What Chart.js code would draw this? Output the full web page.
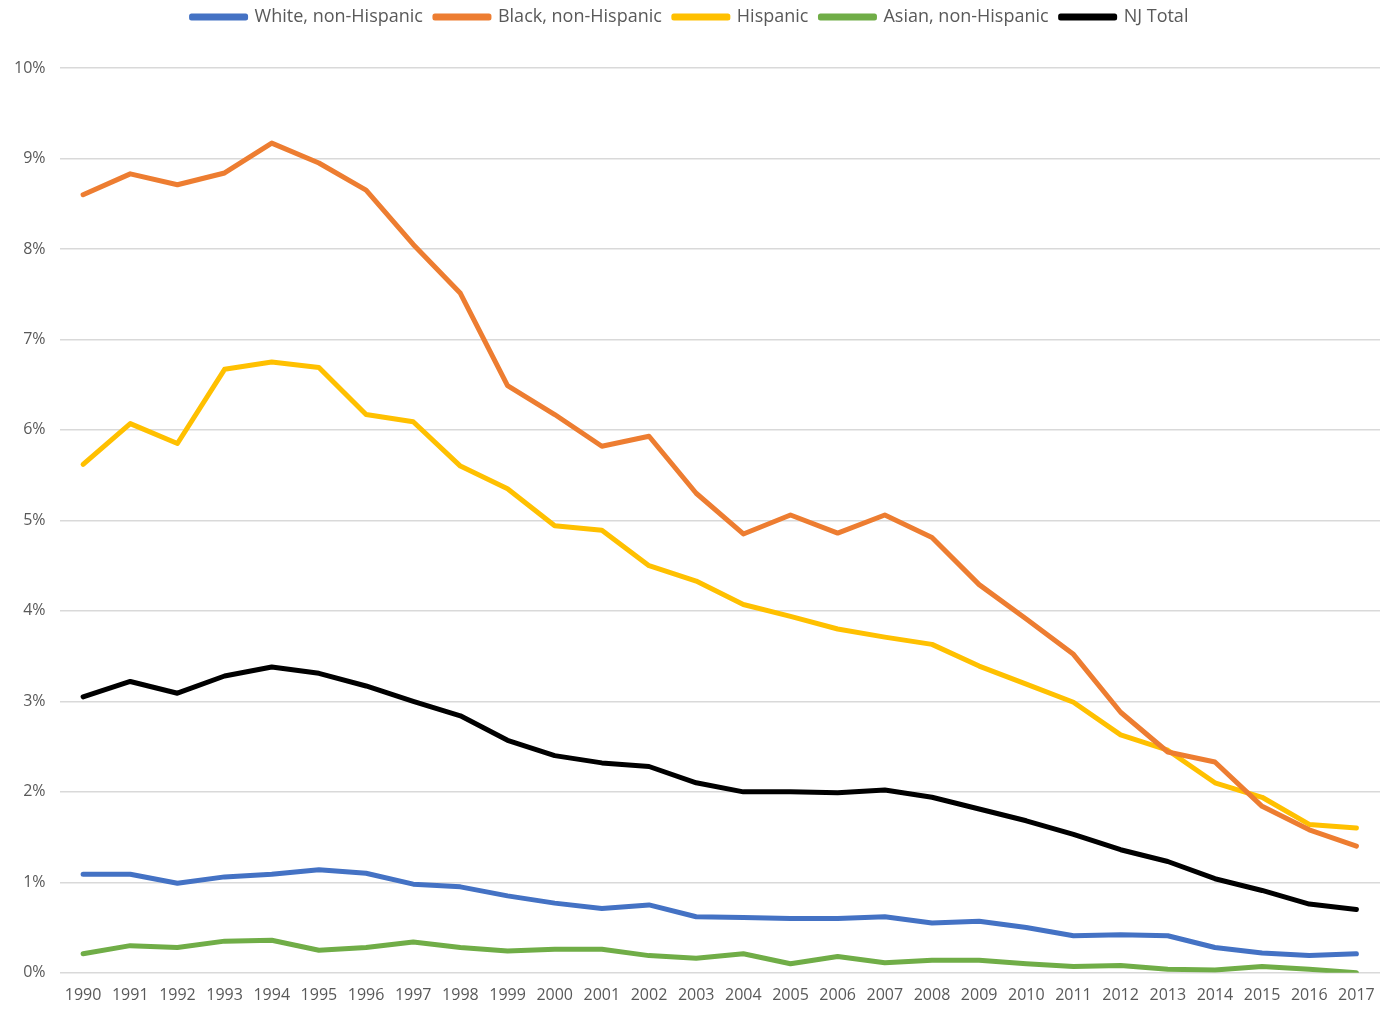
<!DOCTYPE html>
<html>
<head>
<meta charset="utf-8">
<script src="https://cdn.jsdelivr.net/npm/chart.js@4"></script>
<style>
  html, body { margin: 0; padding: 0; background: #fff; }
  #wrap { width: 1383px; height: 1011px; }
</style>
</head>
<body>
<div id="wrap"><canvas id="rateChart"></canvas></div>
<script>
const years = ['1990','1991','1992','1993','1994','1995','1996','1997','1998','1999','2000','2001','2002','2003',
    '2004','2005','2006','2007','2008','2009','2010','2011','2012','2013','2014','2015','2016','2017'];

const whiteRates = [1.09,1.09,0.99,1.06,1.09,1.14,1.10,0.98,0.95,0.85,0.77,0.71,0.75,0.62,
    0.61,0.60,0.60,0.62,0.55,0.57,0.50,0.41,0.42,0.41,0.28,0.22,0.19,0.21];
const blackRates = [8.60,8.83,8.71,8.84,9.17,8.95,8.65,8.05,7.51,6.49,6.17,5.82,5.93,5.30,
    4.85,5.06,4.86,5.06,4.81,4.29,3.91,3.52,2.88,2.44,2.33,1.84,1.58,1.40];
const hispanicRates = [5.62,6.07,5.85,6.67,6.75,6.69,6.17,6.09,5.60,5.35,4.94,4.89,4.50,4.33,
    4.07,3.94,3.80,3.71,3.63,3.39,3.19,2.99,2.63,2.46,2.10,1.94,1.64,1.60];
const asianRates = [0.21,0.30,0.28,0.35,0.36,0.25,0.28,0.34,0.28,0.24,0.26,0.26,0.19,0.16,
    0.21,0.10,0.18,0.11,0.14,0.14,0.10,0.07,0.08,0.04,0.03,0.07,0.04,0.00];
const totalRates = [3.05,3.22,3.09,3.28,3.38,3.31,3.17,3.00,2.84,2.57,2.40,2.32,2.28,2.10,
    2.00,2.00,1.99,2.02,1.94,1.81,1.68,1.53,1.36,1.23,1.04,0.91,0.76,0.70];

const seriesNames = ['White, non-Hispanic', 'Black, non-Hispanic', 'Hispanic', 'Asian, non-Hispanic', 'NJ Total'];
const seriesColors = ['#4472c4', '#ed7d31', '#ffc000', '#70ad47', '#000000'];
const seriesData = [whiteRates, blackRates, hispanicRates, asianRates, totalRates];

const fontFamily = "'Open Sans', 'Liberation Sans', sans-serif";

// push the plot area down below the legend, like the original
const legendGap = {
    id: 'legendGap',
    beforeInit(chart) {
        const origFit = chart.legend.fit;
        chart.legend.fit = function () {
            origFit.bind(chart.legend)();
            this.height += 32;
        };
    }
};

const ctx = document.getElementById('rateChart').getContext('2d');
new Chart(ctx, {
    type: 'line',
    data: {
        labels: years,
        datasets: seriesData.map((d, i) => ({
            label: seriesNames[i],
            data: d,
            borderColor: seriesColors[i],
            backgroundColor: seriesColors[i],
            borderWidth: 5,
            borderCapStyle: 'round',
            borderJoinStyle: 'round',
            pointRadius: 0,
            pointHoverRadius: 0,
            tension: 0,
            fill: false
        }))
    },
    options: {
        responsive: true,
        maintainAspectRatio: false,
        animation: false,
        layout: { padding: { top: -4, right: 3, left: 0, bottom: 1 } },
        plugins: {
            legend: {
                position: 'top',
                labels: {
                    boxWidth: 54,
                    boxHeight: 2,
                    padding: 12,
                    color: '#595959',
                    font: { family: fontFamily, size: 18 }
                }
            },
            tooltip: { enabled: false }
        },
        scales: {
            x: {
                offset: true,
                grid: { display: false },
                border: { display: false },
                ticks: {
                    color: '#595959',
                    font: { family: fontFamily, size: 16 },
                    maxRotation: 0,
                    autoSkip: false,
                    padding: 5
                }
            },
            y: {
                min: 0,
                max: 10,
                grid: { color: '#d9d9d9', lineWidth: 1.5, drawTicks: false },
                border: { display: false },
                ticks: {
                    stepSize: 1,
                    color: '#595959',
                    font: { family: fontFamily, size: 16 },
                    padding: 14,
                    callback: v => v + '%'
                }
            }
        }
    },
    plugins: [legendGap]
});
</script>
</body>
</html>
